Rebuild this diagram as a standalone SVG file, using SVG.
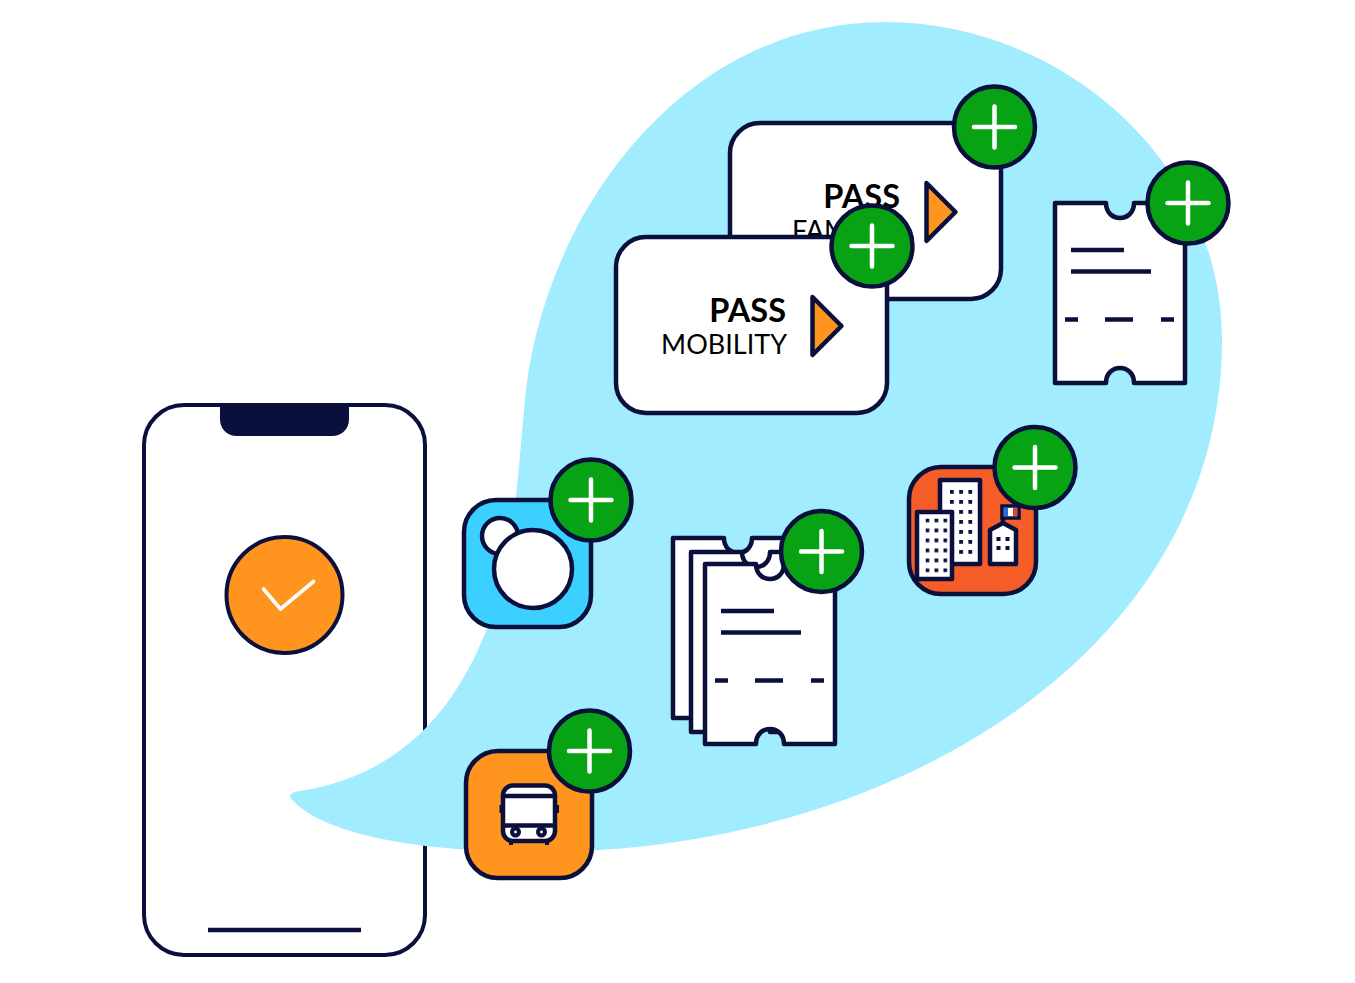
<svg xmlns="http://www.w3.org/2000/svg" width="1355" height="983" viewBox="0 0 1355 983">
<style>
.o{stroke:#0a0f3c;stroke-width:4.500;stroke-linejoin:round;stroke-linecap:round}
.w{fill:#fff}
.n{fill:#0a0f3c}
.l{stroke:#0a0f3c;stroke-width:4.500;fill:none}
.b{fill:#07a314;stroke:#0a0f3c;stroke-width:4.500}
.p{stroke:#fff;stroke-width:4.500;stroke-linecap:round;fill:none}
.t{font-family:Lato,"Open Sans","Liberation Sans",sans-serif;fill:#000;text-anchor:end}
.h{font-size:32.500px;font-weight:700}
.s{font-size:27px}
</style>
<defs>
<g id="plus"><circle r="40.500" class="b"/><path class="p" d="M-20.500 0H20.500M0-20.500V20.500"/></g>
<path id="tk" class="o w" d="M0 0H51C51 20 79 20 79 0H130V180H79C79 160 51 160 51 180H0Z"/>
<g id="tkl"><path class="l" d="M16 47H69M16 68.500H96"/><path class="l" d="M10 116.500H23M50 116.500H78M106 116.500H119"/></g>
<pattern id="win1" x="950" y="490" width="9.200" height="10" patternUnits="userSpaceOnUse"><rect width="3.800" height="3.800" fill="#0a0f3c"/></pattern>
<pattern id="win2" x="925.500" y="518.500" width="9" height="10" patternUnits="userSpaceOnUse"><rect width="3.800" height="3.800" fill="#0a0f3c"/></pattern>
</defs>
<g id="phone">
<rect x="144" y="405" width="281" height="550" rx="40" fill="#fff" stroke="#0a0f3c" stroke-width="4"/>
<path class="n" d="M220 405H349V419C349 429 342 436 332 436H237C227 436 220 429 220 419Z"/>
<path class="l" d="M208 930H361"/>
<circle cx="284.500" cy="595" r="58" fill="#ff951f" stroke="#0a0f3c" stroke-width="4"/>
<path d="M263.500 589L280.500 609L313.500 581.500" fill="none" stroke="#fff" stroke-width="3.600" stroke-linecap="round" stroke-linejoin="round"/>
</g>
<path id="blob" fill="#a1ecff" d="M885 22C1060 22 1222 160 1222 340C1222 640 920 830 600 850C500 856 340 850 292 800C288 795 290 793 300 791C400 775 465 710 500 590C515 530 519 465 524 410C538 220 680 22 885 22Z"/>
<g id="pass-family">
<rect x="730" y="123" width="271" height="176" rx="30" class="o w"/>
<text class="t h" x="900" y="208">PASS</text>
<text class="t s" x="900" y="240">FAMILLE</text>
<path class="o" fill="#ff951f" d="M926.500 183L955.500 212L926.500 241Z"/>
<use href="#plus" x="994.500" y="127"/>
</g>
<g id="pass-mobility">
<rect x="616" y="237" width="271" height="176" rx="30" class="o w"/>
<text class="t h" x="786" y="322">PASS</text>
<text class="t s" x="787" y="354">MOBILITY</text>
<path class="o" fill="#ff951f" d="M812.500 297L841.500 326L812.500 355Z"/>
<use href="#plus" x="872" y="246"/>
</g>
<g id="ticket-single">
<g transform="translate(1055 203)"><use href="#tk"/><use href="#tkl"/></g>
<use href="#plus" x="1188" y="203"/>
</g>
<g id="app-city">
<rect x="909" y="467" width="127" height="127" rx="32" fill="#f45d27" stroke="#0a0f3c" stroke-width="4.500"/>
<rect x="940" y="480" width="40" height="84" class="o w"/>
<rect x="950" y="490" width="23" height="64" fill="url(#win1)"/>
<rect x="917" y="512" width="35" height="67" class="o w"/>
<rect x="925.500" y="518.500" width="22" height="54" fill="url(#win2)"/>
<path class="o w" d="M990 530L1003 523L1016 530V564H990Z"/>
<path class="n" d="M996.500 537h4v4h-4zM1005.500 537h4v4h-4zM996.500 546h4v4h-4zM1005.500 546h4v4h-4z"/>
<path class="l" d="M1003 523V516"/>
<rect x="1002" y="506" width="17" height="12" fill="#fff" stroke="#0a0f3c" stroke-width="3.500"/>
<rect x="1004" y="508" width="4" height="8" fill="#2a6cd8"/>
<rect x="1013" y="508" width="4" height="8" fill="#e8402f"/>
<use href="#plus" x="1035" y="467.500"/>
</g>
<g id="app-circles">
<rect x="464" y="500" width="127" height="127" rx="32" fill="#3bd0ff" stroke="#0a0f3c" stroke-width="4.500"/>
<circle cx="500" cy="536" r="18" class="o w"/>
<circle cx="533" cy="569" r="39" class="o w"/>
<use href="#plus" x="591" y="500"/>
</g>
<g id="tickets-stack">
<g transform="translate(673 538)"><use href="#tk"/></g>
<g transform="translate(691 552)"><use href="#tk"/></g>
<g transform="translate(705 564)"><use href="#tk"/><use href="#tkl"/></g>
<use href="#plus" x="821.500" y="551.500"/>
</g>
<g id="app-bus">
<rect x="466" y="751" width="126" height="127" rx="32" fill="#ff951f" stroke="#0a0f3c" stroke-width="4.500"/>
<rect x="499.500" y="805" width="4" height="8" class="n"/>
<rect x="555" y="805" width="4" height="8" class="n"/>
<rect x="509" y="840" width="4" height="5" class="n"/>
<rect x="545" y="840" width="4" height="5" class="n"/>
<rect x="503" y="785.500" width="52" height="55.500" rx="10" class="o w"/>
<path class="l" d="M503 796H555M503 825.500H555"/>
<circle cx="515.500" cy="832" r="5.500" class="n"/>
<circle cx="541.500" cy="832" r="5.500" class="n"/>
<circle cx="515.500" cy="832" r="1.400" class="w"/>
<circle cx="541.500" cy="832" r="1.400" class="w"/>
<use href="#plus" x="589.500" y="751"/>
</g>
</svg>
